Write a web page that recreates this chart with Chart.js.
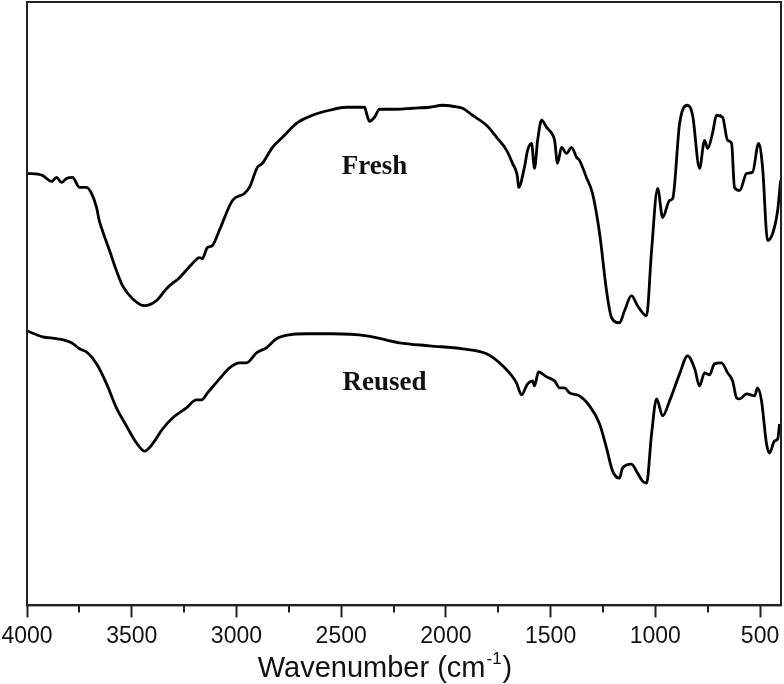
<!DOCTYPE html>
<html>
<head>
<meta charset="utf-8">
<script src="https://cdn.jsdelivr.net/npm/chart.js@4.4.0/dist/chart.umd.min.js"></script>
<style>
  html, body { margin: 0; padding: 0; background: #fff; }
  #wrap { position: relative; width: 784px; height: 684px; }
</style>
</head>
<body>
<div id="wrap"><canvas id="ftir"></canvas></div>
<script>
// wavenumbers (cm-1) and signal (arbitrary units)
var freshWavenumber = [4000, 3926, 3907, 3883, 3859, 3835, 3811, 3783, 3749, 3716, 3692, 3668, 3655, 3640, 3606, 3573, 3544, 3496, 3439, 3382, 3334, 3272, 3210, 3177, 3163, 3139, 3115, 3082, 3019, 2962, 2938, 2900, 2876, 2828, 2780, 2713, 2637, 2556, 2475, 2388, 2379, 2365, 2341, 2317, 2236, 2159, 2078, 2016, 1968, 1920, 1873, 1806, 1758, 1710, 1682, 1658, 1653, 1625, 1610, 1591, 1577, 1562, 1543, 1519, 1495, 1481, 1467, 1448, 1424, 1400, 1376, 1362, 1329, 1300, 1266, 1233, 1209, 1171, 1147, 1114, 1085, 1042, 1018, 989, 965, 932, 917, 884, 846, 822, 789, 765, 750, 727, 708, 679, 655, 636, 622, 597, 564, 536, 507, 488, 464, 440, 416, 402];
var freshSignal = [431, 429, 426, 423, 427, 422, 426, 427, 417, 417, 411, 397, 384, 374, 354, 334, 319, 306, 299, 304, 316, 327, 341, 347, 346, 357, 359, 374, 404, 411, 417, 437, 441, 457, 467, 481, 489, 494, 497, 497, 491, 483, 487, 495, 495, 496, 497, 499, 498, 496, 489, 479, 467, 454, 441, 427, 417, 437, 454, 461, 436, 464, 484, 477, 471, 464, 441, 457, 451, 457, 447, 444, 427, 411, 371, 314, 287, 282, 294, 309, 299, 289, 354, 416, 387, 404, 406, 481, 499, 489, 436, 464, 456, 471, 489, 487, 464, 461, 417, 414, 431, 432, 461, 437, 364, 371, 394, 424];

var reusedWavenumber = [4000, 3926, 3854, 3788, 3749, 3711, 3668, 3620, 3573, 3525, 3477, 3439, 3401, 3353, 3305, 3239, 3191, 3167, 3138, 3081, 3033, 2985, 2952, 2904, 2857, 2809, 2747, 2665, 2541, 2379, 2222, 2078, 1920, 1806, 1729, 1663, 1639, 1610, 1586, 1577, 1558, 1519, 1481, 1457, 1433, 1410, 1362, 1314, 1266, 1233, 1204, 1171, 1157, 1114, 1085, 1061, 1042, 1018, 994, 965, 932, 884, 846, 812, 789, 765, 741, 718, 684, 655, 631, 612, 597, 564, 526, 512, 493, 469, 455, 431, 416, 407];
var reusedSignal = [274, 268, 266, 262, 256, 252, 241, 221, 197, 179, 162, 154, 161, 176, 187, 197, 205, 205, 212, 226, 237, 242, 242, 252, 257, 266, 270, 271, 271, 269, 262, 259, 256, 251, 239, 222, 210, 221, 224, 219, 233, 228, 224, 217, 217, 212, 209, 199, 181, 157, 134, 127, 137, 141, 132, 124, 122, 171, 206, 189, 204, 231, 249, 236, 219, 232, 230, 241, 242, 232, 224, 207, 206, 211, 209, 217, 204, 161, 152, 164, 166, 181];

var majorTicks = [4000, 3500, 3000, 2500, 2000, 1500, 1000, 500];
var minorTicks = [3750, 3250, 2750, 2250, 1750, 1250, 750];

// text placed inside the plot: [text, wavenumber, signal]
var curveLabels = [["Fresh", 2341, 430], ["Reused", 2293, 215]];

function toPoints(xs, ys) {
  return xs.map(function (x, i) { return { x: x, y: ys[i] }; });
}

var extras = {
  id: "extras",
  afterDraw: function (chart) {
    var c = chart.ctx, a = chart.chartArea;
    var xs = chart.scales.x, ys = chart.scales.y;
    c.save();
    // frame
    c.strokeStyle = "#222";
    c.lineWidth = 2;
    c.strokeRect(a.left, a.top, a.right - a.left, a.bottom - a.top);
    // minor ticks
    minorTicks.forEach(function (v) {
      var px = Math.round(xs.getPixelForValue(v));
      c.beginPath();
      c.moveTo(px, a.bottom);
      c.lineTo(px, a.bottom + 7);
      c.stroke();
    });
    // curve labels
    c.fillStyle = "#111";
    c.font = "bold 27px 'Liberation Serif', 'Times New Roman', serif";
    c.textAlign = "center";
    c.textBaseline = "alphabetic";
    curveLabels.forEach(function (l) {
      c.fillText(l[0], xs.getPixelForValue(l[1]), ys.getPixelForValue(l[2]));
    });
    // axis title with superscript
    var main = "Wavenumber (cm", sup = "-1", end = ")";
    var big = "29px 'Liberation Sans', Arial, sans-serif";
    var small = "17px 'Liberation Sans', Arial, sans-serif";
    c.font = big;
    var w1 = c.measureText(main).width, w3 = c.measureText(end).width;
    c.font = small;
    var w2 = c.measureText(sup).width;
    var total = w1 + w2 + w3 + 2;
    var x0 = 385 - total / 2, base = 677;
    c.textAlign = "left";
    c.font = big;
    c.fillText(main, x0, base);
    c.font = small;
    c.fillText(sup, x0 + w1 + 1, base - 13);
    c.font = big;
    c.fillText(end, x0 + w1 + w2 + 2, base);
    c.restore();
  }
};

var ctx = document.getElementById("ftir").getContext("2d");
var ftir = new Chart(ctx, {
  type: "line",
  data: {
    datasets: [
      {
        label: "Fresh",
        data: toPoints(freshWavenumber, freshSignal),
        borderColor: "#000",
        borderWidth: 2.8,
        pointRadius: 0,
        cubicInterpolationMode: "monotone",
        fill: false,
      },
      {
        label: "Reused",
        data: toPoints(reusedWavenumber, reusedSignal),
        borderColor: "#000",
        borderWidth: 2.8,
        pointRadius: 0,
        cubicInterpolationMode: "monotone",
        fill: false,
      },
    ],
  },
  options: {
    responsive: true,
    maintainAspectRatio: false,
    animation: false,
    layout: { padding: { left: 27, right: 3, top: 2, bottom: 29 } },
    plugins: {
      legend: { display: false },
      tooltip: { enabled: false },
    },
    scales: {
      x: {
        type: "linear",
        reverse: true,
        min: 400,
        max: 4000,
        afterBuildTicks: function (scale) {
          scale.ticks = majorTicks.map(function (v) { return { value: v }; });
        },
        afterFit: function (scale) {
          // let the edge label hang into the left margin
          scale.paddingLeft = 0;
          scale.paddingRight = 0;
        },
        border: { display: true, color: "#222", width: 2 },
        grid: {
          drawOnChartArea: false,
          drawTicks: true,
          tickLength: 12,
          tickColor: "#222",
          tickWidth: 2,
        },
        ticks: {
          padding: 5,
          maxRotation: 0,
          autoSkip: false,
          color: "#111",
          font: { family: "'Liberation Sans', Arial, sans-serif", size: 23 },
          callback: function (v) { return String(v); },
        },
      },
      y: {
        display: false,
        min: 0,
        max: 602,
      },
    },
  },
  plugins: [extras],
});
</script>
</body>
</html>
